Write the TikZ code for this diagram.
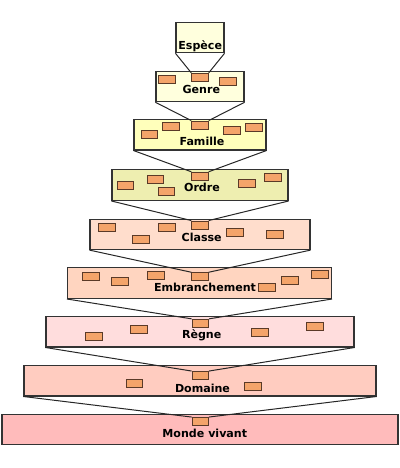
\documentclass[tikz,border=0pt]{standalone}
\usepackage{fontspec}
\setmainfont{DejaVu Sans}

\definecolor{espececol}{HTML}{FFFFDD}
\definecolor{famillecol}{HTML}{FFFFBB}
\definecolor{ordrecol}{HTML}{EEEEB0}
\definecolor{classecol}{HTML}{FFDDCC}
\definecolor{embrcol}{HTML}{FFD5C0}
\definecolor{regnecol}{HTML}{FFDDDD}
\definecolor{domainecol}{HTML}{FFCCC0}
\definecolor{mondecol}{HTML}{FFBBBB}
\definecolor{taxoncol}{HTML}{F4A46A}
\definecolor{taxonline}{HTML}{5A3A28}

\tikzset{
	level/.style={draw={black!80},line width=0.8pt,inner sep=0pt,minimum height=22.9pt},
	taxon/.style={draw=taxonline,fill=taxoncol,line width=0.7pt,inner sep=0pt,minimum width=12.4pt,minimum height=6pt},
	label/.style={font=\bfseries\fontsize{8.3pt}{10pt}\selectfont,anchor=base,inner sep=0pt},
	link/.style={line width=0.75pt,black!85}
}

\begin{document}
\begin{tikzpicture}[x=0.75pt,y=-0.75pt]
	\useasboundingbox (0,0) rectangle (400,468);

	% rangs
	\node[level,fill=espececol,minimum width=36pt] (espece) at (200,37.5) {};
	\node[level,fill=espececol,minimum width=66pt] (genre) at (200,86.5) {};
	\node[level,fill=famillecol,minimum width=99pt] (famille) at (200,134.7) {};
	\node[level,fill=ordrecol,minimum width=132pt] (ordre) at (200,185.2) {};
	\node[level,fill=classecol,minimum width=165pt] (classe) at (200,234.3) {};
	\node[level,fill=embrcol,minimum width=198pt] (embr) at (199.5,283.2) {};
	\node[level,fill=regnecol,minimum width=231pt] (regne) at (200,331.7) {};
	\node[level,fill=domainecol,minimum width=264pt] (domaine) at (200,380.7) {};
	\node[level,fill=mondecol,minimum width=297pt] (monde) at (200,429.3) {};

	% genre
	\node[taxon] (genreC) at (200,77.3) {};
	\node[taxon] (genreA) at (167,79.3) {};
	\node[taxon] (genreB) at (227.7,81.3) {};
	% famille
	\node[taxon] (familleC) at (200,125) {};
	\node[taxon] (familleA) at (149.5,134.7) {};
	\node[taxon] (familleB) at (171.2,126.7) {};
	\node[taxon] (familleD) at (231.8,130.7) {};
	\node[taxon] (familleE) at (253.8,127.3) {};
	% ordre
	\node[taxon] (ordreC) at (200,176.2) {};
	\node[taxon] (ordreA) at (125.5,185) {};
	\node[taxon] (ordreB) at (155.5,179.2) {};
	\node[taxon] (ordreD) at (166.5,191.5) {};
	\node[taxon] (ordreE) at (246.8,183) {};
	\node[taxon] (ordreF) at (272.8,177.8) {};
	% classe
	\node[taxon] (classeC) at (200,225) {};
	\node[taxon] (classeA) at (106.7,227.3) {};
	\node[taxon] (classeB) at (141,239.7) {};
	\node[taxon] (classeD) at (167,227.3) {};
	\node[taxon] (classeE) at (235,232) {};
	\node[taxon] (classeF) at (274.8,234) {};
	% embranchement
	\node[taxon] (embrC) at (200,276.7) {};
	\node[taxon] (embrA) at (91,276.7) {};
	\node[taxon] (embrB) at (120,281.8) {};
	\node[taxon] (embrD) at (155.7,275) {};
	\node[taxon] (embrE) at (267.2,287.3) {};
	\node[taxon] (embrF) at (290.2,280.7) {};
	\node[taxon] (embrG) at (320,274.7) {};
	% regne
	\node[taxon] (regneC) at (200.3,323.3) {};
	\node[taxon] (regneA) at (93.7,336.5) {};
	\node[taxon] (regneB) at (139,329.3) {};
	\node[taxon] (regneD) at (259.7,332) {};
	\node[taxon] (regneE) at (315.2,326.5) {};
	% domaine
	\node[taxon] (domaineC) at (200.3,375.5) {};
	\node[taxon] (domaineA) at (134.3,383.2) {};
	\node[taxon] (domaineB) at (253.2,386.2) {};
	% monde vivant
	\node[taxon] (mondeC) at (200.3,421.5) {};

	% entonnoirs
	\draw[link] (espece.south west) -- (genreC.north west);
	\draw[link] (espece.south east) -- (genreC.north east);
	\draw[link] (genre.south west) -- (familleC.north west);
	\draw[link] (genre.south east) -- (familleC.north east);
	\draw[link] (famille.south west) -- (ordreC.north west);
	\draw[link] (famille.south east) -- (ordreC.north east);
	\draw[link] (ordre.south west) -- (classeC.north west);
	\draw[link] (ordre.south east) -- (classeC.north east);
	\draw[link] (classe.south west) -- (embrC.north west);
	\draw[link] (classe.south east) -- (embrC.north east);
	\draw[link] (embr.south west) -- (regneC.north west);
	\draw[link] (embr.south east) -- (regneC.north east);
	\draw[link] (regne.south west) -- (domaineC.north west);
	\draw[link] (regne.south east) -- (domaineC.north east);
	\draw[link] (domaine.south west) -- (mondeC.north west);
	\draw[link] (domaine.south east) -- (mondeC.north east);

	% noms
	\node[label] (especeT) at (200.2,49.5) {Espèce};
	\node[label] (genreT) at (201.3,93.3) {Genre};
	\node[label] (familleT) at (202,145) {Famille};
	\node[label] (ordreT) at (202,191) {Ordre};
	\node[label] (classeT) at (201.7,241.7) {Classe};
	\node[label] (embrT) at (205,291) {Embranchement};
	\node[label] (regneT) at (201.7,338.5) {Règne};
	\node[label] (domaineT) at (202.5,392.7) {Domaine};
	\node[label] (mondeT) at (204.8,437.3) {Monde vivant};
\end{tikzpicture}
\end{document}
